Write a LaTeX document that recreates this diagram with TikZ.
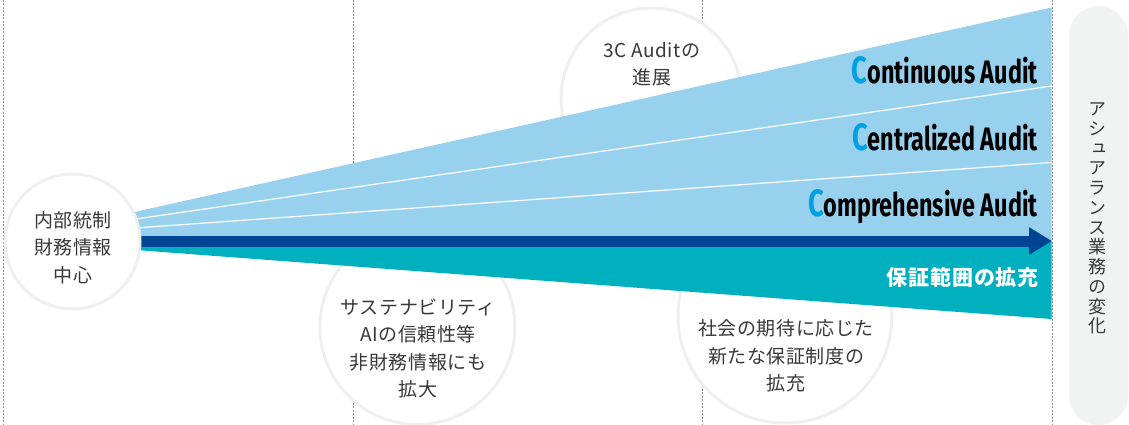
\documentclass[tikz,border=0pt]{standalone}
\usepackage{fontspec}
\usetikzlibrary{arrows.meta}
\newfontfamily\jp{Noto Sans CJK JP}[LetterSpace=3]
\newfontfamily\jpb{Noto Sans CJK JP}[LetterSpace=4]
\newfontfamily\jpv{Noto Sans CJK JP}[RawFeature=+vert]
\newfontfamily\cond{Fira Sans}
\definecolor{lblue}{HTML}{97D1EE}
\definecolor{dblue}{HTML}{004494}
\definecolor{teal}{HTML}{00B0BE}
\definecolor{cyanC}{HTML}{00A0E2}
\definecolor{ring}{HTML}{EEF0EF}
\definecolor{boxgray}{HTML}{F1F2F2}
\definecolor{txtgray}{HTML}{383838}
\definecolor{dashgray}{HTML}{8E8E8E}
\tikzset{
  sep/.style={draw=dashgray, line width=0.8pt, dash pattern=on 2pt off 1.5pt},
  ringc/.style={circle, draw=ring, line width=3pt, fill=white, inner sep=0pt},
  ctext/.style={align=center, text=txtgray, inner sep=0pt, font=\jp\fontsize{19}{27.5}\selectfont},
  audit/.style={anchor=base east, inner sep=0pt, text=black},
}
\newcommand{\auditlabel}[1]{\scalebox{0.72}[1]{\cond\bfseries{\fontsize{38}{38}\selectfont\color{cyanC}C}\fontsize{32.5}{32.5}\selectfont #1}}
\begin{document}
\begin{tikzpicture}[x=1pt,y=-1pt]
\useasboundingbox (0,0) rectangle (1129,425);
% dashed separators
\foreach \xx in {3,353,702,1052}{
  \draw[sep] (\xx,0) -- (\xx,425);
}
% background circles
\node[ringc, minimum size=181pt] (c3) at (651.5,98.5) {};
\node[ringc, minimum size=195pt] (csus) at (417.5,327) {};
\node[ringc, minimum size=214pt] (csoc) at (785,316) {};
% wedges
\coordinate (wtl) at (100,219.7);
\coordinate (wtr) at (1051.5,7.5);
\coordinate (wml) at (100,241);
\coordinate (wmr) at (1051.5,241);
\fill[lblue] (wtl) -- (wtr) -- (wmr) -- (wml) -- cycle;
\coordinate (l1a) at (100,224.2);
\coordinate (l1b) at (1051.5,86);
\coordinate (l2a) at (100,230.5);
\coordinate (l2b) at (1051.5,162.5);
\draw[white, line width=1.2pt] (l1a) -- (l1b);
\draw[white, line width=1.2pt] (l2a) -- (l2b);
\coordinate (tbl) at (100,247.3);
\coordinate (tbr) at (1051.5,319);
\fill[teal] (wml) -- (wmr) -- (tbr) -- (tbl) -- cycle;
\coordinate (as) at (100,241);
\coordinate (ae) at (1052,241);
\draw[dblue, line width=11pt, -{Triangle[length=23pt,width=26pt]}] (as) -- (ae);
% left circle
\node[ringc, minimum size=135pt] (cl) at (72.5,241.5) {};
% circle texts
\node[ctext] (tl) at (73,247.5) {内部統制\\財務情報\\中心};
\node[ctext] (t3) at (652,64) {3C Auditの\\進展};
\node[ctext] (tsus) at (418,348.5) {サステナビリティ\\AIの信頼性等\\非財務情報にも\\拡大};
\node[ctext] (tsoc) at (786,356) {社会の期待に応じた\\新たな保証制度の\\拡充};
% audit labels
\node[audit] (a1) at (1038,83.3) {\auditlabel{ontinuous Audit}};
\node[audit] (a2) at (1038,150) {\auditlabel{entralized Audit}};
\node[audit] (a3) at (1038,216.7) {\auditlabel{omprehensive Audit}};
\node[anchor=base east, inner sep=0pt, text=white, font=\jpb\bfseries\fontsize{21}{21}\selectfont] (hosho) at (1039,285) {保証範囲の拡充};
% right box
\node[fill=boxgray, rounded corners=29.5pt, minimum width=59pt, minimum height=419pt, inner sep=0pt] (rbox) at (1098.5,215.5) {};
\node[align=center, inner sep=0pt, text=txtgray, font=\jpv\fontsize{18}{19.75}\selectfont] (vt) at (1097,218.5) {ア\\シ\\ュ\\ア\\ラ\\ン\\ス\\業\\務\\の\\変\\化};
\end{tikzpicture}
\end{document}
